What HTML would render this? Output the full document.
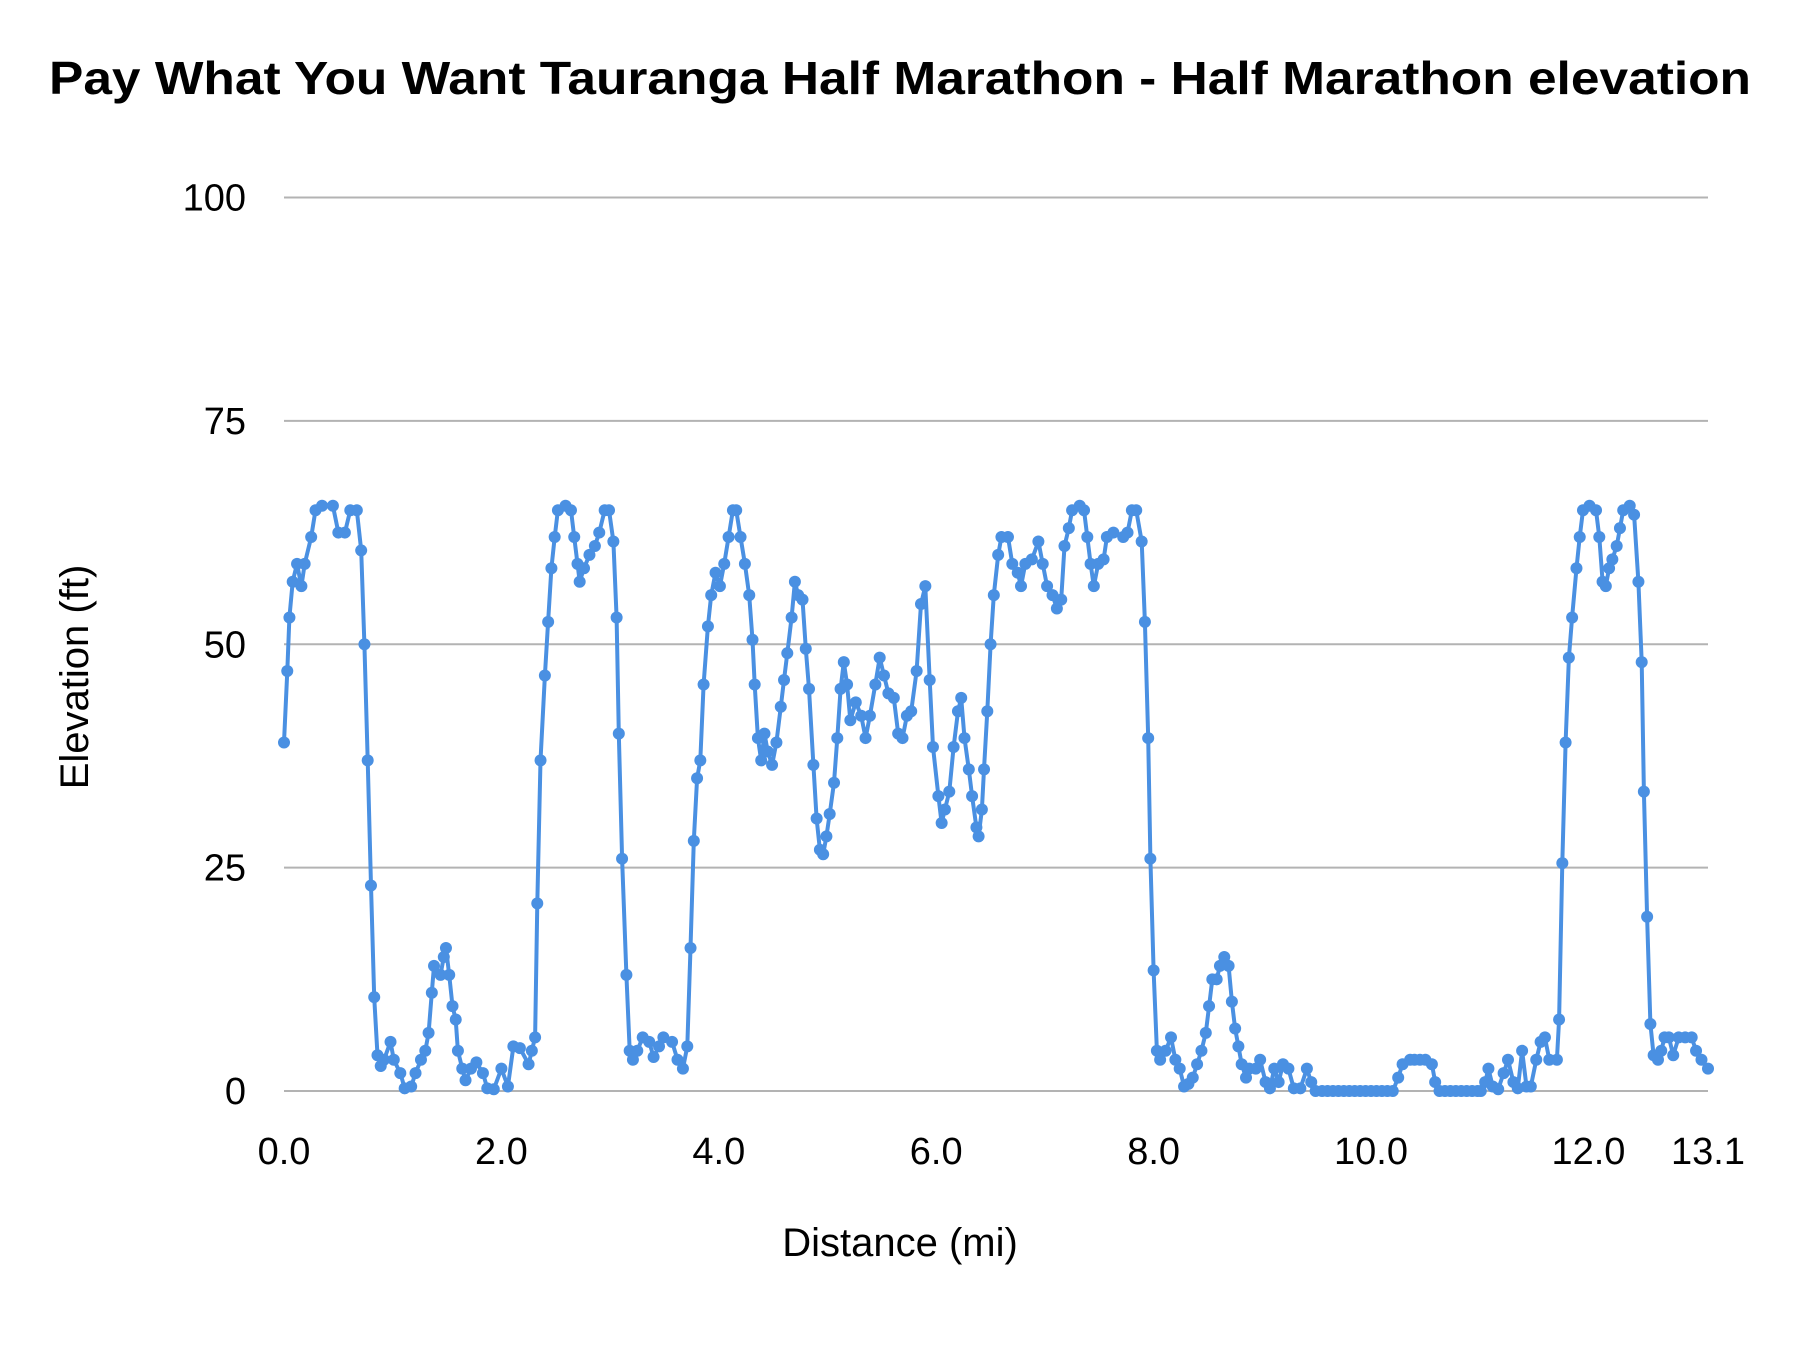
<!DOCTYPE html>
<html><head><meta charset="utf-8"><style>
html,body{margin:0;padding:0;background:#fff;}
svg{display:block;font-family:"Liberation Sans",sans-serif;}
</style></head><body>
<svg id="chart" width="1800" height="1350" viewBox="0 0 1800 1350">
<text x="900" y="94" text-anchor="middle" font-size="46" font-weight="bold" fill="#000" textLength="1702" lengthAdjust="spacingAndGlyphs">Pay What You Want Tauranga Half Marathon - Half Marathon elevation</text>
<g id="grid"></g>
<g id="yticks"></g>
<g id="xticks"></g>
<g id="series"></g>
<text x="900" y="1256" text-anchor="middle" font-size="40" fill="#000">Distance (mi)</text>
<text transform="translate(88,677) rotate(-90)" text-anchor="middle" font-size="40" fill="#000">Elevation (ft)</text>
</svg>
<script>
const yTicks=[0,25,50,75,100];
const xTickValues=[0,2,4,6,8,10,12,13.1];
const xTickLabels=["0.0","2.0","4.0","6.0","8.0","10.0","12.0","13.1"];
const distance=[0,.03,.05,.08,.12,.16,.19,.25,.29,.35,.45,.50,.56,.61,.67,.71,.74,.77,.80,.83,.86,.89,.92,.98,1.01,1.07,1.11,1.17,1.21,1.26,1.30,1.33,1.36,1.38,1.44,1.47,1.49,1.52,1.55,1.58,1.60,1.64,1.67,1.72,1.77,1.83,1.87,1.93,2.00,2.06,2.11,2.17,2.25,2.28,2.31,2.33,2.36,2.40,2.43,2.46,2.49,2.52,2.59,2.64,2.67,2.70,2.72,2.76,2.81,2.86,2.90,2.95,2.99,3.03,3.06,3.08,3.11,3.15,3.18,3.21,3.25,3.30,3.36,3.40,3.45,3.49,3.57,3.62,3.67,3.71,3.74,3.77,3.80,3.83,3.86,3.90,3.93,3.97,4.01,4.05,4.09,4.13,4.16,4.20,4.24,4.28,4.31,4.33,4.36,4.39,4.42,4.45,4.49,4.53,4.57,4.60,4.63,4.67,4.70,4.73,4.77,4.80,4.83,4.87,4.90,4.93,4.96,4.99,5.02,5.06,5.09,5.12,5.15,5.18,5.21,5.26,5.31,5.35,5.39,5.44,5.48,5.52,5.56,5.61,5.65,5.69,5.73,5.77,5.82,5.86,5.90,5.94,5.97,6.02,6.05,6.08,6.12,6.16,6.20,6.23,6.26,6.30,6.33,6.37,6.39,6.42,6.44,6.47,6.50,6.53,6.57,6.60,6.66,6.70,6.75,6.78,6.82,6.88,6.94,6.98,7.02,7.07,7.11,7.15,7.18,7.22,7.25,7.32,7.36,7.39,7.42,7.45,7.49,7.54,7.57,7.63,7.72,7.76,7.80,7.84,7.89,7.92,7.95,7.97,8.00,8.03,8.06,8.11,8.16,8.20,8.24,8.28,8.32,8.36,8.40,8.44,8.48,8.51,8.54,8.58,8.61,8.65,8.69,8.72,8.75,8.78,8.81,8.85,8.88,8.94,8.98,9.03,9.07,9.11,9.15,9.19,9.24,9.29,9.35,9.41,9.45,9.49,9.55,9.60,9.65,9.70,9.75,9.80,9.85,9.90,9.95,10.00,10.05,10.10,10.15,10.20,10.25,10.29,10.36,10.40,10.45,10.50,10.56,10.59,10.63,10.68,10.73,10.78,10.83,10.88,10.93,10.98,11.01,11.05,11.08,11.12,11.17,11.22,11.26,11.31,11.35,11.39,11.43,11.47,11.52,11.56,11.60,11.64,11.71,11.73,11.76,11.79,11.82,11.85,11.89,11.92,11.95,12.01,12.07,12.10,12.13,12.16,12.19,12.22,12.26,12.29,12.32,12.38,12.42,12.46,12.49,12.51,12.54,12.57,12.60,12.64,12.67,12.70,12.74,12.78,12.83,12.89,12.95,12.99,13.04,13.10];
const elevation=[39,47,53,57,59,56.5,59,62,65,65.5,65.5,62.5,62.5,65,65,60.5,50,37,23,10.5,4,2.8,3.5,5.5,3.5,2,0.3,0.5,2,3.5,4.5,6.5,11,14,13,15,16,13,9.5,8,4.5,2.5,1.2,2.5,3.2,2,0.3,0.2,2.5,0.5,5,4.8,3,4.5,6,21,37,46.5,52.5,58.5,62,65,65.5,65,62,59,57,58.5,60,61,62.5,65,65,61.5,53,40,26,13,4.5,3.5,4.5,6,5.5,3.8,5,6,5.5,3.5,2.5,5,16,28,35,37,45.5,52,55.5,58,56.5,59,62,65,65,62,59,55.5,50.5,45.5,39.5,37,40,38,36.5,39,43,46,49,53,57,55.5,55,49.5,45,36.5,30.5,27,26.5,28.5,31,34.5,39.5,45,48,45.5,41.5,43.5,42,39.5,42,45.5,48.5,46.5,44.5,44,40,39.5,42,42.5,47,54.5,56.5,46,38.5,33,30,31.5,33.5,38.5,42.5,44,39.5,36,33,29.5,28.5,31.5,36,42.5,50,55.5,60,62,62,59,58,56.5,59,59.5,61.5,59,56.5,55.5,54,55,61,63,65,65.5,65,62,59,56.5,59,59.5,62,62.5,62,62.5,65,65,61.5,52.5,39.5,26,13.5,4.5,3.5,4.5,6,3.5,2.5,0.5,0.8,1.5,3,4.5,6.5,9.5,12.5,12.5,14,15,14,10,7,5,3,1.5,2.5,2.5,3.5,1,0.3,2.5,1,3,2.5,0.3,0.3,2.5,1,0,0,0,0,0,0,0,0,0,0,0,0,0,0,0,1.5,3,3.5,3.5,3.5,3.5,3,1,0,0,0,0,0,0,0,0,0,1,2.5,0.5,0.2,2,3.5,1,0.3,4.5,0.5,0.5,3.5,5.5,6,3.5,3.5,8,25.5,39,48.5,53,58.5,62,65,65.5,65,62,57,56.5,58.5,59.5,61,63,65,65.5,64.5,57,48,33.5,19.5,7.5,4,3.5,4.5,6,6,4,6,6,6,4.5,3.5,2.5];

const NS='http://www.w3.org/2000/svg';
const L=284,R=1708,T=197.5,B=1091,XMAX=13.1,YMAX=100;
function xs(v){return L+(v/XMAX)*(R-L);}
function ys(v){return B-(v/YMAX)*(B-T);}
function mk(tag,attrs,parent){const e=document.createElementNS(NS,tag);for(const k in attrs)e.setAttribute(k,attrs[k]);parent.appendChild(e);return e;}
const grid=document.getElementById('grid'),yt=document.getElementById('yticks'),xt=document.getElementById('xticks'),ser=document.getElementById('series');
yTicks.forEach(v=>{
  const ln=mk('line',{x1:L,x2:R,y1:ys(v),y2:ys(v),stroke:'#b3b3b3','stroke-width':2},grid);
  
  
  const t=mk('text',{x:246,y:ys(v)+13,'text-anchor':'end','font-size':38,fill:'#000'},yt);
  t.textContent=String(v);
  
  
});
xTickValues.forEach((v,i)=>{
  const t=mk('text',{x:xs(v),y:1164,'text-anchor':'middle','font-size':38,fill:'#000'},xt);
  t.textContent=xTickLabels[i];
  
  
});
const pts=distance.map((d,i)=>xs(d).toFixed(1)+','+ys(elevation[i]).toFixed(1)).join(' ');
const pl=mk('polyline',{points:pts,fill:'none',stroke:'#4a90e2','stroke-width':4,'stroke-linejoin':'round'},ser);


distance.forEach((d,i)=>{
  const c=mk('circle',{cx:xs(d),cy:ys(elevation[i]),r:6,fill:'#4a90e2'},ser);
  
  
});
</script>
</body></html>
